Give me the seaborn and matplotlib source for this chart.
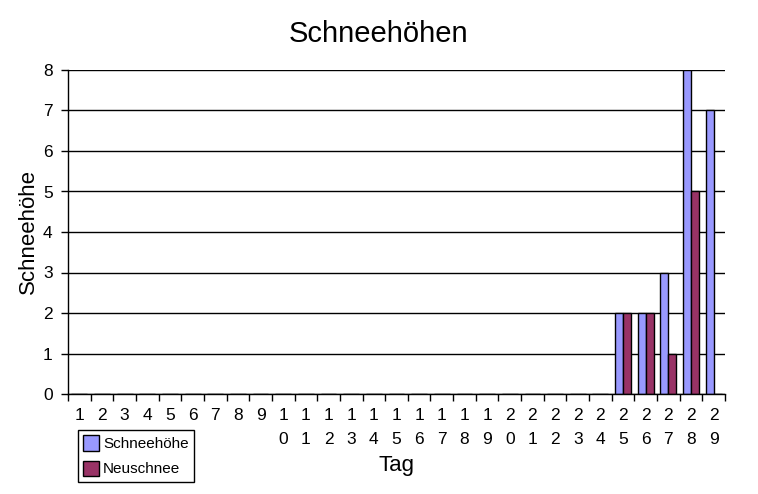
import matplotlib
matplotlib.use("Agg")
import matplotlib.pyplot as plt
import seaborn as sns
import pandas as pd
from matplotlib.patches import Patch

days = list(range(1, 30))
schneehoehe = [0]*24 + [2, 2, 3, 8, 7]
neuschnee = [0]*24 + [2, 2, 1, 5, 0]
series_names = ["Schneehöhe", "Neuschnee"]
colors = ["#9999FF", "#993366"]

df = pd.DataFrame({
    "Tag": days * 2,
    "Wert": schneehoehe + neuschnee,
    "Serie": [series_names[0]] * len(days) + [series_names[1]] * len(days),
})

sns.set_style("white")
plt.rcParams["font.family"] = ["Liberation Sans", "DejaVu Sans"]
plt.rcParams["text.color"] = "black"
plt.rcParams["axes.labelcolor"] = "black"
plt.rcParams["xtick.color"] = "black"
plt.rcParams["ytick.color"] = "black"

fig = plt.figure(figsize=(7.58, 4.94), dpi=100)
ax = fig.add_axes([68/758, 100/494, 657/758, 324/494])

sns.barplot(data=df, x="Tag", y="Wert", hue="Serie", palette=colors,
            width=0.7, edgecolor="black", linewidth=1, ax=ax, legend=False,
            saturation=1)

ax.set_ylim(0, 8)
ax.set_xlim(-0.5, len(days) - 0.5)
ax.set_yticks(range(0, 9))
ax.yaxis.grid(True, color="black", linewidth=1)
ax.set_axisbelow(True)
for s in ["top", "right"]:
    ax.spines[s].set_visible(False)
for s in ["left", "bottom"]:
    ax.spines[s].set_color("black")
    ax.spines[s].set_linewidth(1)

# tick marks at category boundaries, labels at centres
ax.set_xticks([i - 0.5 for i in range(len(days) + 1)])
ax.set_xticklabels([])
ax.set_xticks(range(len(days)), minor=True)
ax.set_xticklabels(["\n".join(str(d)) for d in days], minor=True, fontsize=12.5,
                   linespacing=1.75, va="top")
ax.tick_params(axis="x", which="major", direction="out", length=5, color="black", width=1, bottom=True)
ax.tick_params(axis="x", which="minor", length=0, pad=10)
ax.tick_params(axis="y", direction="out", length=5, color="black", width=1, left=True,
               labelsize=12.5, pad=6)

ax.set_xlabel("Tag", fontsize=16, labelpad=6)
ax.set_ylabel("Schneehöhe", fontsize=16, labelpad=3)
fig.suptitle("Schneehöhen", fontsize=21, y=0.96)

handles = [Patch(facecolor=c, edgecolor="black", label=n) for c, n in zip(colors, series_names)]
leg = fig.legend(handles=handles, loc="upper left", bbox_to_anchor=(78/758, 1 - 430/494),
                 fancybox=False, framealpha=1, edgecolor="black", fontsize=11,
                 handlelength=1.0, handleheight=1.2, handletextpad=0.3,
                 borderpad=0.35, labelspacing=0.6, borderaxespad=0)
leg.get_frame().set_linewidth(1)

fig.savefig("out.png", dpi=100)
